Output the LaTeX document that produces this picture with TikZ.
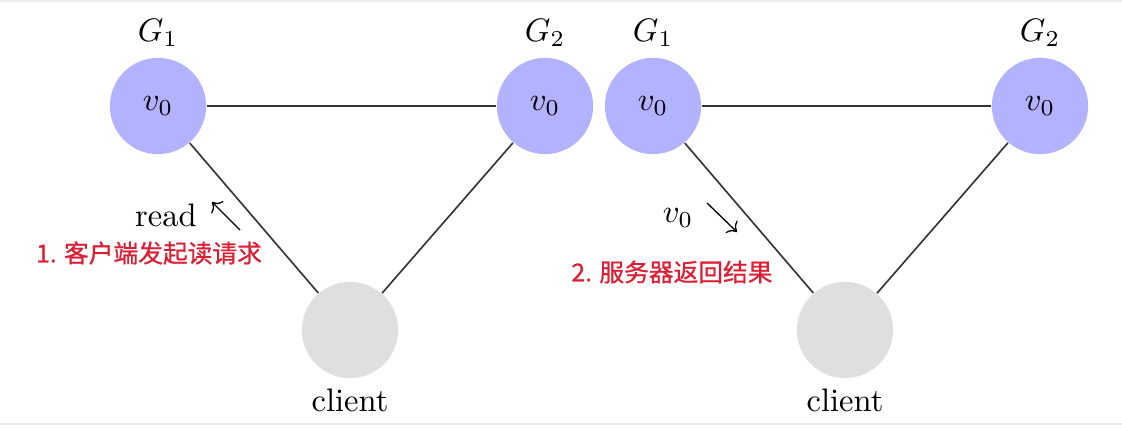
\documentclass[tikz,border=0pt]{standalone}
\usepackage{fontspec}
\newfontfamily\cjk[FakeBold=0.8]{Noto Sans CJK SC}
\usetikzlibrary{arrows.meta}
\definecolor{NoteRed}{RGB}{218,30,52}

\begin{document}
\begin{tikzpicture}[
  x=0.0108cm, y=-0.0108cm,
  >=To,
  vertex/.style={circle, fill=blue!30, minimum size=1.04cm, inner sep=0pt},
  clientnode/.style={circle, fill=gray!25, minimum size=1.04cm, inner sep=0pt},
  link/.style={black!80, line width=0.5pt},
  note/.style={font=\cjk\fontsize{7.6}{9}\selectfont, text=NoteRed},
]
\useasboundingbox (0,0) rectangle (1122,429);

% --- Frame lines ---
\draw[gray!15, line width=0.6pt] (0,1) -- (1122,1);
\draw[gray!15, line width=0.6pt] (0,424) -- (1122,424);

% --- Two copies of the triangle ---
\foreach \i/\dx in {a/0, b/495} {
  \node[vertex] (g1\i) at (158+\dx,106) {$v_0$};
  \node[vertex] (g2\i) at (545+\dx,106) {$v_0$};
  \node[clientnode] (cl\i) at (350+\dx,330) {};
  \node (lg1\i) at (158+\dx,33) {$G_1$};
  \node (lg2\i) at (545+\dx,33) {$G_2$};
  \node (lcl\i) at (350+\dx,400) {client};
  \draw[link] (g1\i) -- (g2\i);
  \draw[link] (g1\i) -- (cl\i);
  \draw[link] (g2\i) -- (cl\i);
}

% --- Step 1: read request ---
\node (readlbl) at (166,215) {read};
\coordinate (reqtail) at (240,230);
\coordinate (reqhead) at (212,202);
\draw[->, thin] (reqtail) -- (reqhead);
\node[note] (note1) at (149,253) {1. 客户端发起读请求};

% --- Step 2: reply ---
\node (replylbl) at (678,218) {$v_0$};
\coordinate (reptail) at (707,203);
\coordinate (rephead) at (737,232);
\draw[->, thin] (reptail) -- (rephead);
\node[note] (note2) at (672,272) {2. 服务器返回结果};

\end{tikzpicture}
\end{document}
